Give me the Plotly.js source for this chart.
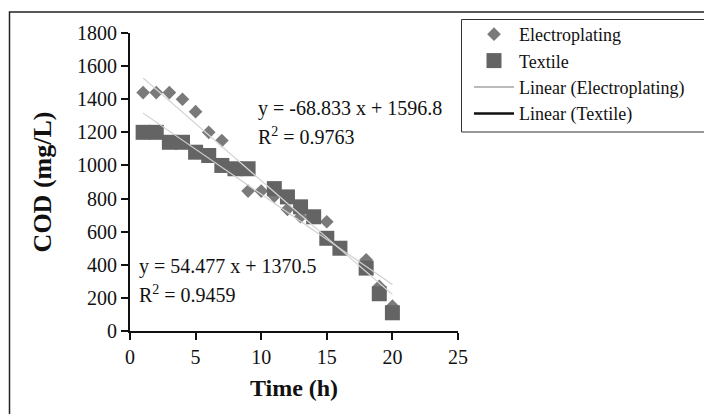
<!DOCTYPE html>
<html>
<head>
<meta charset="utf-8">
<script src="https://cdn.plot.ly/plotly-3.0.1.min.js"></script>
<style>html,body{margin:0;padding:0;background:#fff;}#chart{width:704px;height:414px;}</style>
</head>
<body>
<div id="chart"></div>
<script>
// Data
var elecTime = [1, 2, 3, 4, 5, 6, 7, 9, 10, 11, 12, 13, 15, 18, 19, 20];
var elecCOD  = [1440, 1440, 1440, 1400, 1325, 1200, 1150, 845, 845, 815, 735, 690, 660, 430, 270, 150];
var textTime = [1, 2, 3, 4, 5, 6, 7, 8, 9, 11, 12, 13, 14, 15, 16, 18, 19, 20];
var textCOD  = [1200, 1200, 1140, 1140, 1080, 1060, 1000, 980, 980, 860, 810, 750, 690, 560, 500, 380, 225, 110];
// Trendline coefficients shown on the chart (slope, intercept)
var elecFit = [-68.833, 1596.8];
var textFit = [-54.477, 1370.5];
var fitRange = [1, 20];
var eqLabels = ["y = -68.833 x + 1596.8", "R<sup>2</sup> = 0.9763", "y = 54.477 x + 1370.5", "R<sup>2</sup> = 0.9459"];
var seriesNames = ["Electroplating", "Textile", "Linear (Electroplating)", "Linear (Textile)"];

var FONT = "'Liberation Serif', 'Times New Roman', serif";
var L = 130, T = 33, W = 328, H = 298;
function px2x(p){ return (p - L) / W; }
function py2y(p){ return (T + H - p) / H; }

function fitY(c, xs){ return xs.map(function(x){ return c[0]*x + c[1]; }); }

var traces = [
  {x: elecTime, y: elecCOD, mode: 'markers', type: 'scatter', name: seriesNames[0],
   marker: {symbol: 'diamond', size: 10.5, color: '#7a7a7a'}},
  {x: textTime, y: textCOD, mode: 'markers', type: 'scatter', name: seriesNames[1],
   marker: {symbol: 'square', size: 15, color: '#646464'}},
  {x: fitRange, y: fitY(elecFit, fitRange), mode: 'lines', type: 'scatter', showlegend: false,
   line: {color: '#d6d6d6', width: 1.2}, hoverinfo: 'skip'},
  {x: fitRange, y: fitY(textFit, fitRange), mode: 'lines', type: 'scatter', showlegend: false,
   line: {color: '#cfcfcf', width: 1.2}, hoverinfo: 'skip'},
  {x: [null], y: [null], mode: 'lines', type: 'scatter', name: seriesNames[2],
   line: {color: '#777777', width: 1}},
  {x: [null], y: [null], mode: 'lines', type: 'scatter', name: seriesNames[3],
   line: {color: '#111111', width: 2.5}}
];

var layout = {
  width: 704, height: 414,
  margin: {l: L, r: 704 - L - W, t: T, b: 414 - T - H, pad: 0},
  paper_bgcolor: '#ffffff', plot_bgcolor: '#ffffff',
  font: {family: FONT, size: 19, color: '#111'},
  showlegend: true,
  legend: {
    x: px2x(469), y: py2y(16), xanchor: 'left', yanchor: 'top',
    bgcolor: 'rgba(0,0,0,0)', borderwidth: 0,
    font: {family: FONT, size: 18, color: '#111'},
    itemwidth: 40, tracegroupgap: 0
  },
  xaxis: {
    range: [0, 25], dtick: 5, tick0: 0,
    showgrid: false, zeroline: false,
    showline: true, linecolor: '#111', linewidth: 2,
    ticks: 'outside', ticklen: 7, tickwidth: 2, tickcolor: '#111',
    tickfont: {family: FONT, size: 20, color: '#111'},
    title: {text: '<b>Time (h)</b>', font: {family: FONT, size: 24, color: '#111'}, standoff: 12},
    automargin: false, fixedrange: true
  },
  yaxis: {
    range: [0, 1800], dtick: 200, tick0: 0,
    showgrid: false, zeroline: false,
    showline: true, linecolor: '#111', linewidth: 2,
    ticks: 'outside', ticklen: 7, tickwidth: 2, tickcolor: '#111',
    tickfont: {family: FONT, size: 20, color: '#111'},
    title: {text: '<b>COD (mg/L)</b>', font: {family: FONT, size: 26, color: '#111'}, standoff: 18},
    automargin: false, fixedrange: true
  },
  shapes: [
    {type: 'rect', xref: 'paper', yref: 'paper',
     x0: px2x(9.5), x1: px2x(720), y0: py2y(430), y1: py2y(12),
     line: {color: '#222', width: 1.5}, fillcolor: 'rgba(0,0,0,0)', layer: 'below'},
    {type: 'rect', xref: 'paper', yref: 'paper',
     x0: px2x(461.5), x1: px2x(720), y0: py2y(132), y1: py2y(19.5),
     line: {color: '#333', width: 1}, fillcolor: 'rgba(0,0,0,0)', layer: 'below'}
  ],
  annotations: [
    {xref: 'paper', yref: 'paper', x: px2x(256), y: py2y(109), xanchor: 'left', yanchor: 'middle',
     text: eqLabels[0], showarrow: false, font: {family: FONT, size: 20, color: '#111'}},
    {xref: 'paper', yref: 'paper', x: px2x(256), y: py2y(136), xanchor: 'left', yanchor: 'middle',
     text: eqLabels[1], showarrow: false, font: {family: FONT, size: 20, color: '#111'}},
    {xref: 'paper', yref: 'paper', x: px2x(137), y: py2y(266), xanchor: 'left', yanchor: 'middle',
     text: eqLabels[2], showarrow: false, font: {family: FONT, size: 20, color: '#111'}},
    {xref: 'paper', yref: 'paper', x: px2x(137), y: py2y(294), xanchor: 'left', yanchor: 'middle',
     text: eqLabels[3], showarrow: false, font: {family: FONT, size: 20, color: '#111'}}
  ]
};

Plotly.newPlot('chart', traces, layout, {displayModeBar: false, staticPlot: true});
</script>
</body>
</html>
